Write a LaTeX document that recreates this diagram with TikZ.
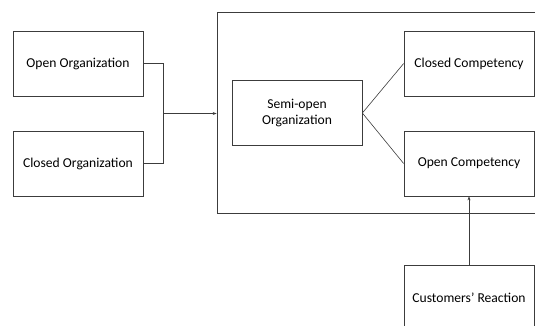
\documentclass[tikz,border=0pt]{standalone}
\usepackage{fontspec}
\setmainfont{Carlito}
\usepackage{tikz}
\usetikzlibrary{arrows.meta, positioning, calc}
\definecolor{edge}{RGB}{60,60,60}

\begin{document}
\begin{tikzpicture}[x=1pt,y=-1pt,
		box/.style={draw=edge,line width=0.7pt,minimum width=130pt,minimum height=65pt,inner sep=2pt,align=center,font=\fontsize{13.6}{16.5}\selectfont},
		link/.style={draw=edge,line width=0.6pt}]
			\useasboundingbox (0,0) rectangle (535,325);
			\clip (0,0) rectangle (535,325);
			% outer frame (runs off the right edge)
			\node[draw=edge,line width=0.7pt,minimum width=343pt,minimum height=201pt,inner sep=0pt] (frame) at (388.5,112.5) {};
			% left column
			\node[box] (openorg) at (78,63.5) {Open Organization};
			\node[box] (closedorg) at (78,163.5) {Closed Organization};
			% inside the frame
			\node[box] (semiopen) at (297,113) {Semi-open\\Organization};
			\node[box] (closedcomp) at (469,63.5) {Closed Competency};
			\node[box] (opencomp) at (469,163.5) {Open Competency};
			% bottom right (runs off the bottom edge)
			\node[box] (reaction) at (469,297.5) {Customers’ Reaction};
			% bracket joining the two organizations
			\coordinate (join) at ($(openorg.east)!0.5!(closedorg.east)+(20,0)$);
			\draw[link] (openorg.east) -- ++(20,0) |- (closedorg.east);
			\draw[link,-{Stealth[length=4pt,width=3pt]}] (join) -- (join -| frame.west);
			% fan out
			\draw[link] (semiopen.east) -- (closedcomp.west);
			\draw[link] (semiopen.east) -- (opencomp.west);
			% reaction feeds back
			\draw[link,-{Stealth[length=4pt,width=3pt]}] (reaction.north) -- (opencomp.south);
		\end{tikzpicture}
\end{document}
